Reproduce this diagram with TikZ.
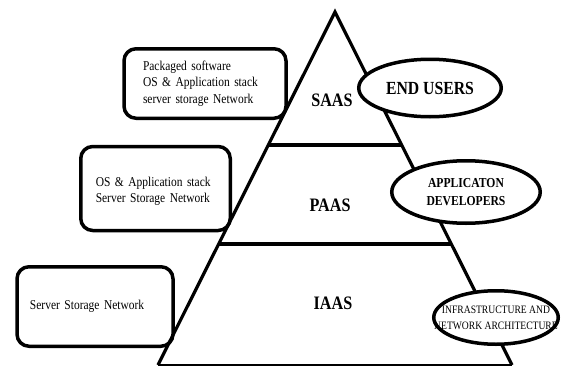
\documentclass[tikz,border=0pt]{standalone}
\usepackage{fontspec}
\setmainfont{Liberation Serif}[FakeStretch=0.85]
\usetikzlibrary{shapes.geometric,calc,positioning}

\begin{document}
\begin{tikzpicture}[x=1pt,y=-1pt,
    stack/.style={draw,line width=3.5pt,rounded corners=12pt,align=left,
      font=\fontsize{13.5}{16.5}\selectfont},
    role/.style={draw,ellipse,fill=white,line width=3.5pt,inner sep=0pt},
    layer/.style={font=\fontsize{19}{22}\selectfont\bfseries}]
    \useasboundingbox (0,0) rectangle (579,367);

    % pyramid
    \coordinate (apex) at (335,12);
    \coordinate (bl) at (158,365);
    \coordinate (br) at (512,365);
    \coordinate (saasl) at ($(apex)!0.3757!(bl)$);
    \coordinate (saasr) at ($(apex)!0.3757!(br)$);
    \coordinate (paasl) at ($(apex)!0.658!(bl)$);
    \coordinate (paasr) at ($(apex)!0.658!(br)$);

    \draw [line width=3.2pt] (bl) -- (apex) -- (br);
    \draw [line width=2pt] (bl) -- (br);
    \draw [line width=4pt] (saasl) -- (saasr);
    \draw [line width=4pt] (paasl) -- (paasr);

    \node[layer] (saas) at (332,100) {SAAS};
    \node[layer] (paas) at (330,205) {PAAS};
    \node[layer] (iaas) at (333,303) {IAAS};

    % what each layer ships
    \node[stack,text width=124pt,inner xsep=19pt,minimum height=69.5pt]
      (saasbox) at (205,83.5)
      {Packaged software\\OS \& Application stack\\server storage Network};
    \node[stack,text width=119.5pt,inner xsep=15pt,minimum height=84pt,
      text depth=14pt] (paasbox) at (155.5,188.5)
      {OS \& Application stack\\Server Storage Network};
    \node[stack,text width=130pt,inner xsep=13pt,minimum height=79.5pt]
      (iaasbox) at (95,306.5) {Server Storage Network};

    % who uses it
    \node[role,minimum width=142.5pt,minimum height=57.5pt,
      font=\fontsize{18.5}{22}\selectfont\bfseries] (users) at (430,88)
      {END USERS};
    \node[role,minimum width=148.5pt,minimum height=62.5pt,align=center,
      font=\fontsize{13.7}{18}\selectfont\bfseries] (devs) at (466,192)
      {APPLICATON\\DEVELOPERS};
    \node[role,minimum width=124.5pt,minimum height=53.5pt] (infra)
      at (496,317.5) {};
    \node[align=center,font=\fontsize{11.3}{16}\selectfont] (infratext)
      at (infra) {INFRASTRUCTURE AND\\NETWORK ARCHITECTURE};
\end{tikzpicture}
\end{document}
